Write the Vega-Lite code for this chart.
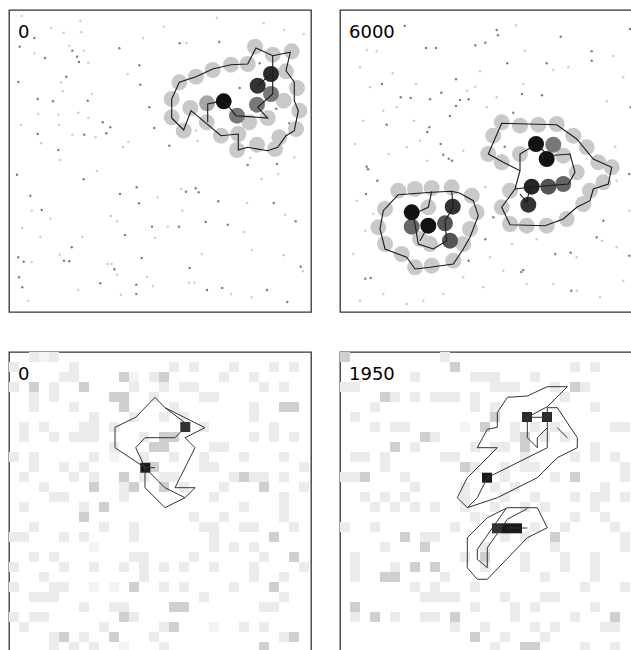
{
"$schema":"https://vega.github.io/schema/vega-lite/v6.json",
"padding":{"left":8,"top":9,"right":0,"bottom":0},
"background":"white",
"config":{"view":{"stroke":"#333333","strokeWidth":1.3}},
"spacing":{"row":38,"column":27},
"columns":2,
"datasets":{
"labels":[{"p":"TL","x":0.9,"y":2.8,"label":"0"},{"p":"TR","x":0.9,"y":2.8,"label":"6000"},{"p":"BL","x":0.9,"y":2.8,"label":"0"},{"p":"BR","x":0.9,"y":2.8,"label":"1950"}],
"tl_dots":[
{"x":2.53,"y":2.8,"v":5},{"x":1.07,"y":3.67,"v":5},{"x":3.6,"y":4.8,"v":5},{"x":6.33,"y":4.07,"v":5},{"x":6.8,"y":4.67,"v":5},{"x":7.0,"y":5.2,"v":5},{"x":11.03,"y":3.83,"v":5},{"x":13.03,"y":5.53,"v":5},{"x":5.73,"y":6.67,"v":5},{"x":0.93,"y":7.2,"v":5},{"x":13.13,"y":7.47,"v":5},{"x":2.87,"y":8.9,"v":5},{"x":4.4,"y":9.13,"v":5},{"x":7.87,"y":9.07,"v":5},{"x":14.03,"y":9.73,"v":5},{"x":9.37,"y":11.23,"v":5},{"x":10.13,"y":11.73,"v":5},{"x":14.53,"y":11.8,"v":5},{"x":9.73,"y":12.33,"v":5},{"x":2.87,"y":12.4,"v":5},{"x":7.53,"y":12.47,"v":5},{"x":4.93,"y":14.0,"v":5},{"x":16.03,"y":13.57,"v":5},{"x":0.8,"y":16.47,"v":5},{"x":2.13,"y":18.57,"v":5},{"x":3.27,"y":20.0,"v":5},{"x":7.47,"y":16.93,"v":5},{"x":12.77,"y":17.73,"v":5},{"x":11.1,"y":18.4,"v":5},{"x":13.0,"y":19.33,"v":5},{"x":17.7,"y":18.17,"v":5},{"x":18.67,"y":17.83,"v":5},{"x":18.97,"y":18.23,"v":5},{"x":20.93,"y":19.13,"v":5},{"x":26.47,"y":19.3,"v":5},{"x":23.87,"y":15.5,"v":5},{"x":26.8,"y":15.4,"v":5},{"x":28.03,"y":11.33,"v":5},{"x":19.67,"y":21.2,"v":5},{"x":21.87,"y":21.47,"v":5},{"x":17.0,"y":21.67,"v":5},{"x":14.3,"y":21.67,"v":5},{"x":11.6,"y":22.5,"v":5},{"x":6.27,"y":23.73,"v":5},{"x":13.27,"y":24.8,"v":5},{"x":5.5,"y":25.07,"v":5},{"x":6.03,"y":25.13,"v":5},{"x":1.47,"y":25.17,"v":5},{"x":0.93,"y":24.73,"v":5},{"x":10.53,"y":25.93,"v":5},{"x":18.07,"y":25.8,"v":5},{"x":29.17,"y":25.67,"v":5},{"x":1.0,"y":26.73,"v":5},{"x":1.33,"y":27.73,"v":5},{"x":9.13,"y":27.33,"v":5},{"x":12.73,"y":27.47,"v":5},{"x":12.73,"y":28.4,"v":5},{"x":19.8,"y":28.0,"v":5},{"x":21.33,"y":27.8,"v":5},{"x":25.8,"y":28.0,"v":5},{"x":27.83,"y":29.2,"v":5},{"x":28.67,"y":21.13,"v":5},{"x":25.07,"y":5.33,"v":5},{"x":23.07,"y":7.8,"v":5},{"x":26.73,"y":9.87,"v":5},{"x":21.03,"y":3.2,"v":5},{"x":17.07,"y":3.33,"v":5},
{"x":1.27,"y":0.6,"v":2},{"x":4.2,"y":1.8,"v":2},{"x":5.47,"y":2.27,"v":2},{"x":7.13,"y":1.07,"v":2},{"x":7.2,"y":2.23,"v":2},{"x":2.53,"y":4.33,"v":2},{"x":6.03,"y":3.6,"v":2},{"x":7.47,"y":4.07,"v":2},{"x":7.93,"y":5.27,"v":2},{"x":11.87,"y":6.4,"v":2},{"x":5.2,"y":7.23,"v":2},{"x":5.37,"y":8.13,"v":2},{"x":8.27,"y":8.4,"v":2},{"x":2.93,"y":10.4,"v":2},{"x":6.93,"y":10.27,"v":2},{"x":4.93,"y":10.47,"v":2},{"x":7.93,"y":10.8,"v":2},{"x":1.2,"y":11.47,"v":2},{"x":5.0,"y":11.47,"v":2},{"x":6.33,"y":12.47,"v":2},{"x":8.67,"y":12.73,"v":2},{"x":11.4,"y":13.73,"v":2},{"x":11.93,"y":13.2,"v":2},{"x":3.2,"y":13.33,"v":2},{"x":5.07,"y":15.0,"v":2},{"x":8.8,"y":16.13,"v":2},{"x":14.87,"y":18.73,"v":2},{"x":17.2,"y":17.9,"v":2},{"x":17.33,"y":20.07,"v":2},{"x":23.8,"y":19.33,"v":2},{"x":10.2,"y":20.6,"v":2},{"x":10.8,"y":21.13,"v":2},{"x":4.13,"y":20.87,"v":2},{"x":1.33,"y":21.8,"v":2},{"x":3.13,"y":22.67,"v":2},{"x":7.33,"y":22.67,"v":2},{"x":14.6,"y":22.8,"v":2},{"x":15.87,"y":21.67,"v":2},{"x":19.27,"y":24.4,"v":2},{"x":24.27,"y":24.0,"v":2},{"x":27.47,"y":24.53,"v":2},{"x":23.53,"y":22.2,"v":2},{"x":27.6,"y":20.47,"v":2},{"x":2.27,"y":20.07,"v":2},{"x":2.27,"y":25.2,"v":2},{"x":5.07,"y":24.47,"v":2},{"x":9.87,"y":25.4,"v":2},{"x":10.27,"y":25.4,"v":2},{"x":10.8,"y":26.47,"v":2},{"x":13.8,"y":26.67,"v":2},{"x":14.4,"y":27.6,"v":2},{"x":6.93,"y":28.0,"v":2},{"x":1.93,"y":29.07,"v":2},{"x":11.2,"y":28.47,"v":2},{"x":18.0,"y":27.27,"v":2},{"x":18.53,"y":27.27,"v":2},{"x":22.2,"y":28.4,"v":2},{"x":24.27,"y":28.73,"v":2},{"x":29.4,"y":26.13,"v":2},{"x":29.47,"y":2.4,"v":2},{"x":27.53,"y":2.0,"v":2},{"x":25.47,"y":1.33,"v":2},{"x":20.8,"y":0.8,"v":2},{"x":15.47,"y":1.67,"v":2},{"x":13.4,"y":2.8,"v":2},{"x":17.73,"y":3.33,"v":2},{"x":18.7,"y":12.07,"v":2},{"x":18.87,"y":13.07,"v":2},{"x":24.13,"y":14.8,"v":2},{"x":26.93,"y":16.4,"v":2},{"x":25.27,"y":16.93,"v":2},{"x":28.53,"y":14.73,"v":2}],
"tl_circles":[
{"x":17.03,"y":7.23,"v":2.1},{"x":18.7,"y":6.67,"v":2.1},{"x":20.37,"y":6.0,"v":2.1},{"x":22.2,"y":5.47,"v":2.1},{"x":23.87,"y":5.4,"v":2.1},{"x":24.6,"y":3.67,"v":2.1},{"x":26.37,"y":4.47,"v":2.1},{"x":28.27,"y":4.13,"v":2.1},{"x":27.7,"y":6.13,"v":2.1},{"x":28.8,"y":7.8,"v":2.1},{"x":29.03,"y":10.07,"v":2.1},{"x":28.7,"y":11.9,"v":2.1},{"x":27.03,"y":12.73,"v":2.1},{"x":26.6,"y":13.9,"v":2.1},{"x":24.8,"y":13.47,"v":2.1},{"x":22.8,"y":14.0,"v":2.1},{"x":22.93,"y":12.4,"v":2.1},{"x":21.2,"y":12.57,"v":2.1},{"x":19.77,"y":11.23,"v":2.1},{"x":17.47,"y":12.07,"v":2.1},{"x":16.27,"y":10.73,"v":2.1},{"x":16.27,"y":8.9,"v":2.1},{"x":18.13,"y":9.8,"v":2.1},{"x":24.03,"y":11.23,"v":2.1},{"x":25.87,"y":10.8,"v":2.1},{"x":27.47,"y":9.07,"v":2.1},
{"x":19.8,"y":9.33,"v":3.5},{"x":22.8,"y":10.57,"v":5.3},{"x":24.8,"y":9.47,"v":5.3},{"x":26.2,"y":8.4,"v":5.3},{"x":24.87,"y":7.57,"v":8},{"x":26.2,"y":6.4,"v":8.3},{"x":21.47,"y":9.13,"v":9.3}],
"tl_lines":[
{"g":1,"o":1,"x":23.87,"y":5.4},{"g":1,"o":2,"x":24.7,"y":3.8},{"g":1,"o":3,"x":26.37,"y":4.57},{"g":1,"o":4,"x":28.13,"y":4.23},{"g":1,"o":5,"x":27.7,"y":6.07},{"g":1,"o":6,"x":28.53,"y":7.23},{"g":1,"o":7,"x":28.53,"y":9.07},{"g":1,"o":8,"x":28.93,"y":10.07},{"g":1,"o":9,"x":28.53,"y":12.07},{"g":1,"o":10,"x":27.7,"y":12.57},{"g":1,"o":11,"x":26.87,"y":13.73},{"g":1,"o":12,"x":25.87,"y":14.07},{"g":1,"o":13,"x":23.87,"y":13.73},{"g":1,"o":14,"x":22.93,"y":14.0},{"g":1,"o":15,"x":22.93,"y":12.4},{"g":1,"o":16,"x":21.2,"y":12.57},{"g":1,"o":17,"x":18.2,"y":10.07},{"g":1,"o":18,"x":17.47,"y":12.0},{"g":1,"o":19,"x":16.27,"y":10.8},{"g":1,"o":20,"x":16.27,"y":8.9},{"g":1,"o":21,"x":17.03,"y":7.23},{"g":1,"o":22,"x":18.7,"y":6.67},{"g":1,"o":23,"x":20.37,"y":5.9},{"g":1,"o":24,"x":22.2,"y":5.47},{"g":1,"o":25,"x":23.87,"y":5.4},
{"g":2,"o":1,"x":26.37,"y":4.57},{"g":2,"o":2,"x":26.37,"y":8.4},{"g":2,"o":3,"x":24.87,"y":9.73},{"g":2,"o":4,"x":25.87,"y":10.8},{"g":2,"o":5,"x":22.7,"y":10.57},{"g":2,"o":6,"x":21.47,"y":9.07},{"g":2,"o":7,"x":19.87,"y":9.4},{"g":2,"o":8,"x":19.87,"y":11.23},
{"g":3,"o":1,"x":26.2,"y":6.4},{"g":3,"o":2,"x":24.87,"y":7.57}],
"tr_dots":[
{"x":6.47,"y":1.6,"v":5},{"x":15.67,"y":2.0,"v":5},{"x":15.8,"y":2.53,"v":5},{"x":22.07,"y":2.67,"v":5},{"x":29.0,"y":1.9,"v":5},{"x":8.6,"y":3.8,"v":5},{"x":9.6,"y":3.8,"v":5},{"x":13.53,"y":3.53,"v":5},{"x":14.53,"y":3.27,"v":5},{"x":25.17,"y":4.13,"v":5},{"x":25.17,"y":5.07,"v":5},{"x":16.73,"y":5.33,"v":5},{"x":20.67,"y":5.33,"v":5},{"x":11.6,"y":6.93,"v":5},{"x":4.2,"y":7.4,"v":5},{"x":6.07,"y":8.73,"v":5},{"x":7.07,"y":8.8,"v":5},{"x":9.0,"y":8.93,"v":5},{"x":10.13,"y":8.27,"v":5},{"x":11.99,"y":9.0,"v":5},{"x":12.87,"y":8.93,"v":5},{"x":11.6,"y":9.6,"v":5},{"x":10.99,"y":10.6,"v":5},{"x":17.33,"y":10.27,"v":5},{"x":18.2,"y":8.4,"v":5},{"x":20.2,"y":8.53,"v":5},{"x":29.07,"y":9.73,"v":5},{"x":29.27,"y":10.2,"v":5},{"x":4.67,"y":11.47,"v":5},{"x":8.93,"y":11.73,"v":5},{"x":8.73,"y":12.2,"v":5},{"x":10.07,"y":13.4,"v":5},{"x":10.87,"y":14.87,"v":5},{"x":11.2,"y":15.07,"v":5},{"x":10.33,"y":14.47,"v":5},{"x":2.67,"y":15.67,"v":5},{"x":2.8,"y":15.93,"v":5},{"x":3.73,"y":17.07,"v":5},{"x":2.6,"y":18.4,"v":5},{"x":14.53,"y":22.93,"v":5},{"x":15.33,"y":20.73,"v":5},{"x":16.47,"y":13.67,"v":5},{"x":28.93,"y":16.4,"v":5},{"x":28.93,"y":24.57,"v":5},{"x":18.33,"y":26.0,"v":5},{"x":18.13,"y":26.2,"v":5},{"x":23.13,"y":28.07,"v":5},{"x":2.53,"y":26.87,"v":5},{"x":3.07,"y":26.8,"v":5},{"x":21.53,"y":24.4,"v":5},{"x":23.07,"y":24.27,"v":5},{"x":26.33,"y":21.07,"v":5},{"x":25.67,"y":22.73,"v":5},{"x":12.87,"y":25.07,"v":5},
{"x":2.67,"y":4.0,"v":2},{"x":3.67,"y":4.13,"v":2},{"x":2.0,"y":5.73,"v":2},{"x":5.27,"y":6.33,"v":2},{"x":3.0,"y":7.73,"v":2},{"x":7.6,"y":7.4,"v":2},{"x":12.73,"y":8.07,"v":2},{"x":13.53,"y":7.67,"v":2},{"x":14.0,"y":6.13,"v":2},{"x":17.6,"y":1.53,"v":2},{"x":18.47,"y":4.07,"v":2},{"x":21.33,"y":6.0,"v":2},{"x":22.83,"y":5.73,"v":2},{"x":27.33,"y":4.6,"v":2},{"x":28.33,"y":6.73,"v":2},{"x":26.67,"y":9.13,"v":2},{"x":27.53,"y":13.67,"v":2},{"x":27.67,"y":17.07,"v":2},{"x":28.93,"y":20.07,"v":2},{"x":27.67,"y":23.73,"v":2},{"x":26.2,"y":23.07,"v":2},{"x":28.33,"y":27.07,"v":2},{"x":26.0,"y":28.73,"v":2},{"x":23.67,"y":28.07,"v":2},{"x":21.33,"y":27.4,"v":2},{"x":18.67,"y":27.4,"v":2},{"x":16.33,"y":26.07,"v":2},{"x":14.33,"y":27.73,"v":2},{"x":12.33,"y":26.73,"v":2},{"x":10.33,"y":28.4,"v":2},{"x":8.33,"y":29.07,"v":2},{"x":6.67,"y":29.4,"v":2},{"x":4.33,"y":28.4,"v":2},{"x":2.0,"y":29.07,"v":2},{"x":1.33,"y":24.4,"v":2},{"x":2.53,"y":22.07,"v":2},{"x":3.33,"y":20.4,"v":2},{"x":1.67,"y":19.07,"v":2},{"x":1.53,"y":13.4,"v":2},{"x":2.33,"y":11.07,"v":2},{"x":4.33,"y":10.07,"v":2},{"x":5.67,"y":9.73,"v":2},{"x":7.4,"y":11.07,"v":2},{"x":8.0,"y":13.07,"v":2},{"x":6.67,"y":13.73,"v":2},{"x":4.87,"y":14.4,"v":2},{"x":8.73,"y":15.07,"v":2},{"x":12.33,"y":14.07,"v":2},{"x":14.53,"y":17.73,"v":2},{"x":14.0,"y":19.73,"v":2},{"x":15.0,"y":24.73,"v":2},{"x":17.2,"y":23.4,"v":2},{"x":19.67,"y":22.93,"v":2},{"x":23.67,"y":24.73,"v":2},{"x":18.33,"y":7.4,"v":2},{"x":15.67,"y":8.73,"v":2},{"x":14.67,"y":9.73,"v":2}],
"tr_circles":[
{"x":5.83,"y":18.07,"v":2.1},{"x":7.5,"y":17.9,"v":2.1},{"x":9.17,"y":17.8,"v":2.1},{"x":11.17,"y":17.73,"v":2.1},{"x":13.17,"y":18.57,"v":2.1},{"x":13.67,"y":20.23,"v":2.1},{"x":13.0,"y":21.9,"v":2.1},{"x":12.33,"y":23.4,"v":2.1},{"x":11.33,"y":25.07,"v":2.1},{"x":9.17,"y":25.57,"v":2.1},{"x":7.5,"y":25.73,"v":2.1},{"x":6.17,"y":24.4,"v":2.1},{"x":4.5,"y":23.4,"v":2.1},{"x":3.83,"y":21.73,"v":2.1},{"x":4.5,"y":19.9,"v":2.1},{"x":8.83,"y":19.73,"v":2.1},{"x":9.0,"y":23.4,"v":2.1},{"x":8.0,"y":22.9,"v":2.1},
{"x":16.17,"y":11.23,"v":2.1},{"x":18.0,"y":11.57,"v":2.1},{"x":19.83,"y":11.47,"v":2.1},{"x":21.67,"y":11.4,"v":2.1},{"x":23.33,"y":12.57,"v":2.1},{"x":24.67,"y":13.73,"v":2.1},{"x":25.83,"y":15.23,"v":2.1},{"x":27.17,"y":15.73,"v":2.1},{"x":26.33,"y":17.23,"v":2.1},{"x":25.0,"y":18.07,"v":2.1},{"x":24.33,"y":19.4,"v":2.1},{"x":22.67,"y":20.9,"v":2.1},{"x":20.67,"y":21.57,"v":2.1},{"x":18.67,"y":21.57,"v":2.1},{"x":17.0,"y":21.4,"v":2.1},{"x":16.17,"y":19.73,"v":2.1},{"x":17.0,"y":18.07,"v":2.1},{"x":14.83,"y":14.4,"v":2.1},{"x":15.33,"y":12.57,"v":2.1},{"x":18.0,"y":14.4,"v":2.1},{"x":16.17,"y":15.23,"v":2.1},{"x":22.33,"y":14.57,"v":2.1},{"x":23.67,"y":16.23,"v":2.1},
{"x":21.33,"y":13.47,"v":5.3},{"x":7.17,"y":21.67,"v":6.0},{"x":22.33,"y":17.4,"v":6.0},{"x":10.5,"y":21.33,"v":6.7},{"x":11.0,"y":23.07,"v":6.7},{"x":20.83,"y":17.67,"v":6.7},{"x":11.27,"y":19.67,"v":8},{"x":18.83,"y":19.47,"v":8},{"x":19.17,"y":17.67,"v":8.5},{"x":7.17,"y":20.23,"v":9.3},{"x":8.83,"y":21.57,"v":9.3},{"x":19.6,"y":13.4,"v":9.3},{"x":20.67,"y":14.9,"v":9.3}],
"tr_lines":[
{"g":1,"o":1,"x":5.83,"y":18.47},{"g":1,"o":2,"x":9.17,"y":18.23},{"g":1,"o":3,"x":11.17,"y":18.13},{"g":1,"o":4,"x":12.0,"y":18.33},{"g":1,"o":5,"x":13.33,"y":19.07},{"g":1,"o":6,"x":13.83,"y":20.57},{"g":1,"o":7,"x":13.0,"y":22.73},{"g":1,"o":8,"x":12.33,"y":23.9},{"g":1,"o":9,"x":11.33,"y":25.4},{"g":1,"o":10,"x":9.0,"y":25.73},{"g":1,"o":11,"x":7.5,"y":25.9},{"g":1,"o":12,"x":6.67,"y":24.73},{"g":1,"o":13,"x":4.5,"y":23.9},{"g":1,"o":14,"x":4.0,"y":21.9},{"g":1,"o":15,"x":4.33,"y":20.07},{"g":1,"o":16,"x":5.83,"y":18.47},
{"g":2,"o":1,"x":9.17,"y":18.13},{"g":2,"o":2,"x":8.83,"y":19.73},{"g":2,"o":3,"x":7.33,"y":20.4},{"g":2,"o":4,"x":7.83,"y":23.4},{"g":2,"o":5,"x":9.33,"y":23.9},{"g":2,"o":6,"x":10.67,"y":23.07},{"g":2,"o":7,"x":10.5,"y":21.07},{"g":2,"o":8,"x":11.33,"y":19.73},{"g":2,"o":9,"x":11.17,"y":18.13},
{"g":3,"o":1,"x":8.83,"y":21.57},{"g":3,"o":2,"x":8.0,"y":23.07},
{"g":4,"o":1,"x":16.17,"y":11.33},{"g":4,"o":2,"x":21.67,"y":11.47},{"g":4,"o":3,"x":23.67,"y":12.9},{"g":4,"o":4,"x":25.33,"y":14.9},{"g":4,"o":5,"x":27.17,"y":15.73},{"g":4,"o":6,"x":26.83,"y":17.4},{"g":4,"o":7,"x":25.33,"y":17.9},{"g":4,"o":8,"x":25.0,"y":19.07},{"g":4,"o":9,"x":23.67,"y":19.73},{"g":4,"o":10,"x":22.33,"y":20.9},{"g":4,"o":11,"x":20.5,"y":21.57},{"g":4,"o":12,"x":17.0,"y":21.47},{"g":4,"o":13,"x":16.17,"y":19.73},{"g":4,"o":14,"x":17.5,"y":17.9},{"g":4,"o":15,"x":18.0,"y":16.07},{"g":4,"o":16,"x":16.33,"y":15.23},{"g":4,"o":17,"x":14.83,"y":14.4},{"g":4,"o":18,"x":16.17,"y":11.33},
{"g":5,"o":1,"x":18.0,"y":16.07},{"g":5,"o":2,"x":18.0,"y":14.4},{"g":5,"o":3,"x":19.67,"y":13.4},{"g":5,"o":4,"x":20.83,"y":14.57},{"g":5,"o":5,"x":23.0,"y":14.4},{"g":5,"o":6,"x":23.5,"y":16.23},{"g":5,"o":7,"x":22.83,"y":17.4},{"g":5,"o":8,"x":19.0,"y":17.73},{"g":5,"o":9,"x":17.5,"y":17.9},
{"g":6,"o":1,"x":19.0,"y":17.73},{"g":6,"o":2,"x":18.67,"y":19.23},{"g":6,"o":3,"x":18.0,"y":18.4}],
"bl_cells":[
{"x":2.5,"y":0.5,"v":0.8},{"x":3.5,"y":0.5,"v":0.45},{"x":4.5,"y":0.5,"v":0.8},
{"x":0.5,"y":1.5,"v":0.8},{"x":6.5,"y":1.5,"v":0.8},{"x":16.5,"y":1.5,"v":0.8},{"x":18.5,"y":1.5,"v":0.8},{"x":22.5,"y":1.5,"v":0.8},{"x":26.5,"y":1.5,"v":0.8},{"x":28.5,"y":1.5,"v":0.8},
{"x":5.5,"y":2.5,"v":0.8},{"x":6.5,"y":2.5,"v":0.8},{"x":11.5,"y":2.5,"v":1.9},{"x":12.5,"y":2.5,"v":0.45},{"x":14.5,"y":2.5,"v":0.8},{"x":15.5,"y":2.5,"v":1.9},{"x":21.5,"y":2.5,"v":0.8},{"x":24.5,"y":2.5,"v":0.8},
{"x":0.5,"y":3.5,"v":0.8},{"x":2.5,"y":3.5,"v":1.9},{"x":4.5,"y":3.5,"v":0.8},{"x":7.5,"y":3.5,"v":1.9},{"x":12.5,"y":3.5,"v":0.8},{"x":15.5,"y":3.5,"v":0.8},{"x":17.5,"y":3.5,"v":0.8},{"x":18.5,"y":3.5,"v":0.8},{"x":25.5,"y":3.5,"v":0.8},{"x":27.5,"y":3.5,"v":0.8},
{"x":2.5,"y":4.5,"v":0.8},{"x":4.5,"y":4.5,"v":0.8},{"x":10.5,"y":4.5,"v":1.9},{"x":11.5,"y":4.5,"v":1.9},{"x":14.5,"y":4.5,"v":0.8},{"x":19.5,"y":4.5,"v":0.8},{"x":20.5,"y":4.5,"v":0.8},
{"x":2.5,"y":5.5,"v":0.8},{"x":6.5,"y":5.5,"v":0.8},{"x":11.5,"y":5.5,"v":1.9},{"x":16.5,"y":5.5,"v":0.8},{"x":24.5,"y":5.5,"v":0.8},{"x":27.5,"y":5.5,"v":1.9},{"x":28.5,"y":5.5,"v":1.9},
{"x":8.5,"y":6.5,"v":0.8},{"x":12.5,"y":6.5,"v":0.8},{"x":15.5,"y":6.5,"v":0.8},{"x":17.5,"y":6.5,"v":0.8},{"x":24.5,"y":6.5,"v":0.8},
{"x":1.5,"y":7.5,"v":0.8},{"x":3.5,"y":7.5,"v":0.8},{"x":7.5,"y":7.5,"v":0.8},{"x":8.5,"y":7.5,"v":0.8},{"x":10.5,"y":7.5,"v":0.8},{"x":19.5,"y":7.5,"v":0.8},{"x":26.5,"y":7.5,"v":0.8},
{"x":1.5,"y":8.5,"v":0.8},{"x":4.5,"y":8.5,"v":0.8},{"x":6.5,"y":8.5,"v":0.8},{"x":7.5,"y":8.5,"v":0.8},{"x":8.5,"y":8.5,"v":0.8},{"x":13.5,"y":8.5,"v":0.8},{"x":15.5,"y":8.5,"v":1.9},{"x":16.5,"y":8.5,"v":1.9},{"x":24.5,"y":8.5,"v":0.8},{"x":26.5,"y":8.5,"v":0.8},{"x":28.5,"y":8.5,"v":0.8},
{"x":10.5,"y":9.5,"v":0.8},{"x":14.5,"y":9.5,"v":1.9},{"x":15.5,"y":9.5,"v":1.9},{"x":20.5,"y":9.5,"v":0.8},{"x":21.5,"y":9.5,"v":0.8},
{"x":0.5,"y":10.5,"v":0.8},{"x":2.5,"y":10.5,"v":0.8},{"x":8.5,"y":10.5,"v":0.8},{"x":10.5,"y":10.5,"v":0.45},{"x":13.5,"y":10.5,"v":0.8},{"x":16.5,"y":10.5,"v":0.8},{"x":19.5,"y":10.5,"v":0.8},{"x":23.5,"y":10.5,"v":0.8},{"x":27.5,"y":10.5,"v":0.8},
{"x":2.5,"y":11.5,"v":0.8},{"x":5.5,"y":11.5,"v":0.8},{"x":7.5,"y":11.5,"v":0.8},{"x":14.5,"y":11.5,"v":1.9},{"x":19.5,"y":11.5,"v":0.8},{"x":20.5,"y":11.5,"v":0.8},{"x":29.5,"y":11.5,"v":0.8},
{"x":1.5,"y":12.5,"v":0.8},{"x":6.5,"y":12.5,"v":0.8},{"x":8.5,"y":12.5,"v":0.8},{"x":11.5,"y":12.5,"v":1.9},{"x":13.5,"y":12.5,"v":0.8},{"x":15.5,"y":12.5,"v":0.8},{"x":16.5,"y":12.5,"v":0.8},{"x":22.5,"y":12.5,"v":0.8},{"x":23.5,"y":12.5,"v":1.9},{"x":24.5,"y":12.5,"v":0.8},{"x":25.5,"y":12.5,"v":0.8},{"x":27.5,"y":12.5,"v":0.8},
{"x":3.5,"y":13.5,"v":0.8},{"x":8.5,"y":13.5,"v":1.9},{"x":11.5,"y":13.5,"v":0.8},{"x":12.5,"y":13.5,"v":1.9},{"x":15.5,"y":13.5,"v":1.9},{"x":17.5,"y":13.5,"v":0.8},{"x":21.5,"y":13.5,"v":0.8},{"x":25.5,"y":13.5,"v":1.9},{"x":29.5,"y":13.5,"v":0.8},
{"x":4.5,"y":14.5,"v":0.8},{"x":5.5,"y":14.5,"v":0.8},{"x":11.5,"y":14.5,"v":0.8},{"x":20.5,"y":14.5,"v":0.8},{"x":27.5,"y":14.5,"v":0.8},
{"x":1.5,"y":15.5,"v":0.8},{"x":7.5,"y":15.5,"v":0.8},{"x":9.5,"y":15.5,"v":1.9},{"x":23.5,"y":15.5,"v":0.8},{"x":27.5,"y":15.5,"v":0.8},
{"x":7.5,"y":16.5,"v":1.9},{"x":18.5,"y":16.5,"v":0.8},{"x":21.5,"y":16.5,"v":0.8},{"x":27.5,"y":16.5,"v":0.8},
{"x":2.5,"y":17.5,"v":0.8},{"x":9.5,"y":17.5,"v":0.8},{"x":12.5,"y":17.5,"v":0.8},{"x":19.5,"y":17.5,"v":0.8},{"x":20.5,"y":17.5,"v":0.8},{"x":23.5,"y":17.5,"v":0.8},{"x":24.5,"y":17.5,"v":0.8},{"x":28.5,"y":17.5,"v":0.8},
{"x":0.5,"y":18.5,"v":0.8},{"x":1.5,"y":18.5,"v":0.8},{"x":5.5,"y":18.5,"v":0.8},{"x":7.5,"y":18.5,"v":0.8},{"x":12.5,"y":18.5,"v":0.8},{"x":20.5,"y":18.5,"v":0.8},{"x":26.5,"y":18.5,"v":1.9},
{"x":8.5,"y":19.5,"v":0.45},{"x":20.5,"y":19.5,"v":0.8},{"x":22.5,"y":19.5,"v":0.8},{"x":24.5,"y":19.5,"v":0.8},
{"x":2.5,"y":20.5,"v":0.8},{"x":4.5,"y":20.5,"v":0.8},{"x":12.5,"y":20.5,"v":0.8},{"x":13.5,"y":20.5,"v":0.8},{"x":18.5,"y":20.5,"v":0.8},{"x":25.5,"y":20.5,"v":0.8},{"x":28.5,"y":20.5,"v":1.9},
{"x":0.5,"y":21.5,"v":0.8},{"x":5.5,"y":21.5,"v":0.8},{"x":8.5,"y":21.5,"v":0.8},{"x":11.5,"y":21.5,"v":0.8},{"x":13.5,"y":21.5,"v":0.8},{"x":15.5,"y":21.5,"v":0.8},{"x":17.5,"y":21.5,"v":0.8},{"x":20.5,"y":21.5,"v":0.8},{"x":24.5,"y":21.5,"v":0.8},{"x":29.5,"y":21.5,"v":0.8},
{"x":3.5,"y":22.5,"v":0.8},{"x":13.5,"y":22.5,"v":0.8},{"x":24.5,"y":22.5,"v":0.8},{"x":27.5,"y":22.5,"v":0.8},
{"x":0.5,"y":23.5,"v":0.8},{"x":4.5,"y":23.5,"v":0.8},{"x":5.5,"y":23.5,"v":0.8},{"x":8.5,"y":23.5,"v":0.45},{"x":10.5,"y":23.5,"v":0.45},{"x":12.5,"y":23.5,"v":1.9},{"x":15.5,"y":23.5,"v":0.8},{"x":17.5,"y":23.5,"v":0.8},{"x":22.5,"y":23.5,"v":0.8},{"x":26.5,"y":23.5,"v":1.9},
{"x":2.5,"y":24.5,"v":0.8},{"x":3.5,"y":24.5,"v":0.8},{"x":4.5,"y":24.5,"v":0.8},{"x":19.5,"y":24.5,"v":0.8},{"x":27.5,"y":24.5,"v":0.8},
{"x":7.5,"y":25.5,"v":0.8},{"x":10.5,"y":25.5,"v":0.8},{"x":11.5,"y":25.5,"v":0.8},{"x":16.5,"y":25.5,"v":1.9},{"x":17.5,"y":25.5,"v":1.9},{"x":25.5,"y":25.5,"v":0.8},{"x":26.5,"y":25.5,"v":0.8},
{"x":0.5,"y":26.5,"v":0.8},{"x":2.5,"y":26.5,"v":0.8},{"x":3.5,"y":26.5,"v":0.8},{"x":11.5,"y":26.5,"v":1.9},{"x":12.5,"y":26.5,"v":0.8},
{"x":1.5,"y":27.5,"v":0.8},{"x":9.5,"y":27.5,"v":0.8},{"x":15.5,"y":27.5,"v":0.8},{"x":16.5,"y":27.5,"v":1.9},{"x":20.5,"y":27.5,"v":0.45},{"x":23.5,"y":27.5,"v":0.8},{"x":25.5,"y":27.5,"v":0.8},
{"x":4.5,"y":28.5,"v":0.8},{"x":5.5,"y":28.5,"v":1.9},{"x":7.5,"y":28.5,"v":0.8},{"x":10.5,"y":28.5,"v":1.9},{"x":14.5,"y":28.5,"v":0.8},{"x":27.5,"y":28.5,"v":0.8},{"x":28.5,"y":28.5,"v":1.9},
{"x":4.5,"y":29.5,"v":0.8},{"x":6.5,"y":29.5,"v":0.8},{"x":8.5,"y":29.5,"v":0.8},{"x":11.5,"y":29.5,"v":0.45},{"x":15.5,"y":29.5,"v":0.8},{"x":25.5,"y":29.5,"v":1.9},
{"x":17.63,"y":7.5,"v":8},{"x":13.63,"y":11.57,"v":9}],
"bl_lines":[
{"g":1,"o":1,"x":14.6,"y":4.53},{"g":1,"o":2,"x":12.67,"y":6.53},{"g":1,"o":3,"x":10.6,"y":7.53},{"g":1,"o":4,"x":10.6,"y":9.57},{"g":1,"o":5,"x":13.6,"y":11.57},{"g":1,"o":6,"x":13.6,"y":13.57},{"g":1,"o":7,"x":15.6,"y":15.57},{"g":1,"o":8,"x":17.6,"y":14.57},{"g":1,"o":9,"x":18.6,"y":13.57},{"g":1,"o":10,"x":16.6,"y":13.57},{"g":1,"o":11,"x":18.6,"y":9.57},{"g":1,"o":12,"x":17.6,"y":8.57},{"g":1,"o":13,"x":19.6,"y":7.57},{"g":1,"o":14,"x":15.6,"y":5.57},{"g":1,"o":15,"x":14.6,"y":4.53},
{"g":2,"o":1,"x":15.6,"y":5.57},{"g":2,"o":2,"x":17.6,"y":7.07},{"g":2,"o":3,"x":17.6,"y":7.57},{"g":2,"o":4,"x":16.6,"y":8.57},{"g":2,"o":5,"x":13.6,"y":8.57},{"g":2,"o":6,"x":12.67,"y":9.57},{"g":2,"o":7,"x":13.6,"y":11.57},{"g":2,"o":8,"x":14.6,"y":11.57},
{"g":3,"o":1,"x":13.6,"y":11.57},{"g":3,"o":2,"x":15.6,"y":13.57},{"g":3,"o":3,"x":17.6,"y":14.57}],
"br_cells":[
{"x":0.5,"y":0.5,"v":1.9},{"x":10.5,"y":0.5,"v":0.8},
{"x":11.5,"y":1.5,"v":1.9},{"x":23.5,"y":1.5,"v":0.8},{"x":25.5,"y":1.5,"v":0.8},
{"x":7.5,"y":2.5,"v":0.8},{"x":13.5,"y":2.5,"v":0.8},{"x":14.5,"y":2.5,"v":0.8},{"x":15.5,"y":2.5,"v":0.8},{"x":19.5,"y":2.5,"v":0.8},
{"x":0.5,"y":3.5,"v":0.8},{"x":1.5,"y":3.5,"v":0.8},{"x":15.5,"y":3.5,"v":0.8},{"x":16.5,"y":3.5,"v":0.8},{"x":17.5,"y":3.5,"v":0.8},{"x":21.5,"y":3.5,"v":0.8},{"x":23.5,"y":3.5,"v":1.9},{"x":24.5,"y":3.5,"v":0.8},
{"x":4.5,"y":4.5,"v":1.9},{"x":5.5,"y":4.5,"v":0.8},{"x":7.5,"y":4.5,"v":0.8},{"x":9.5,"y":4.5,"v":0.8},{"x":10.5,"y":4.5,"v":0.8},{"x":11.5,"y":4.5,"v":0.8},{"x":13.5,"y":4.5,"v":0.8},{"x":22.5,"y":4.5,"v":0.8},
{"x":3.5,"y":5.5,"v":0.8},{"x":13.5,"y":5.5,"v":0.8},{"x":15.5,"y":5.5,"v":0.8},{"x":25.5,"y":5.5,"v":0.8},
{"x":1.5,"y":6.5,"v":0.8},{"x":15.5,"y":6.5,"v":1.9},
{"x":3.5,"y":7.5,"v":0.8},{"x":5.5,"y":7.5,"v":0.8},{"x":6.5,"y":7.5,"v":0.8},{"x":12.5,"y":7.5,"v":0.45},{"x":14.5,"y":7.5,"v":1.9},{"x":17.5,"y":7.5,"v":0.8},{"x":19.5,"y":7.5,"v":0.8},{"x":21.5,"y":7.5,"v":0.8},{"x":27.5,"y":7.5,"v":0.8},{"x":28.5,"y":7.5,"v":0.8},
{"x":8.5,"y":8.5,"v":1.9},{"x":9.5,"y":8.5,"v":0.8},{"x":17.5,"y":8.5,"v":0.8},{"x":18.5,"y":8.5,"v":1.9},{"x":20.5,"y":8.5,"v":0.8},{"x":22.5,"y":8.5,"v":0.8},
{"x":5.5,"y":9.5,"v":1.9},{"x":7.5,"y":9.5,"v":0.8},{"x":13.5,"y":9.5,"v":0.8},{"x":15.5,"y":9.5,"v":0.8},{"x":16.5,"y":9.5,"v":0.8},{"x":18.5,"y":9.5,"v":1.9},{"x":25.5,"y":9.5,"v":0.8},
{"x":1.5,"y":10.5,"v":0.8},{"x":2.5,"y":10.5,"v":0.8},{"x":4.5,"y":10.5,"v":0.8},{"x":10.5,"y":10.5,"v":0.8},{"x":11.5,"y":10.5,"v":0.8},{"x":18.5,"y":10.5,"v":0.8},{"x":23.5,"y":10.5,"v":0.8},{"x":25.5,"y":10.5,"v":0.8},{"x":27.5,"y":10.5,"v":0.8},
{"x":4.5,"y":11.5,"v":0.8},{"x":12.5,"y":11.5,"v":1.9},{"x":13.5,"y":11.5,"v":0.8},{"x":16.5,"y":11.5,"v":0.8},{"x":18.5,"y":11.5,"v":0.8},{"x":19.5,"y":11.5,"v":0.8},{"x":28.5,"y":11.5,"v":0.8},
{"x":0.5,"y":12.5,"v":0.8},{"x":1.5,"y":12.5,"v":0.8},{"x":2.5,"y":12.5,"v":1.9},{"x":6.5,"y":12.5,"v":0.8},{"x":16.5,"y":12.5,"v":0.8},{"x":21.5,"y":12.5,"v":0.8},{"x":23.5,"y":12.5,"v":1.9},{"x":28.5,"y":12.5,"v":0.8},
{"x":7.5,"y":13.5,"v":0.8},{"x":12.5,"y":13.5,"v":0.8},{"x":15.5,"y":13.5,"v":0.8},{"x":17.5,"y":13.5,"v":0.8},{"x":26.5,"y":13.5,"v":0.8},
{"x":2.5,"y":14.5,"v":0.8},{"x":4.5,"y":14.5,"v":0.8},{"x":6.5,"y":14.5,"v":0.8},{"x":12.5,"y":14.5,"v":0.8},{"x":16.5,"y":14.5,"v":0.8},{"x":19.5,"y":14.5,"v":0.8},{"x":23.5,"y":14.5,"v":0.8},{"x":25.5,"y":14.5,"v":0.8},{"x":26.5,"y":14.5,"v":0.8},{"x":28.5,"y":14.5,"v":0.8},
{"x":3.5,"y":15.5,"v":0.8},{"x":5.5,"y":15.5,"v":0.8},{"x":7.5,"y":15.5,"v":0.8},{"x":9.5,"y":15.5,"v":0.8},{"x":12.5,"y":15.5,"v":0.8},{"x":15.5,"y":15.5,"v":0.8},{"x":18.5,"y":15.5,"v":0.8},{"x":20.5,"y":15.5,"v":0.8},{"x":25.5,"y":15.5,"v":0.8},
{"x":13.5,"y":16.5,"v":0.8},{"x":23.5,"y":16.5,"v":0.8},{"x":26.5,"y":16.5,"v":0.8},
{"x":0.5,"y":17.5,"v":0.8},{"x":3.5,"y":17.5,"v":0.8},{"x":11.5,"y":17.5,"v":0.8},{"x":19.5,"y":17.5,"v":0.8},{"x":22.5,"y":17.5,"v":0.8},{"x":27.5,"y":17.5,"v":0.8},
{"x":6.5,"y":18.5,"v":1.9},{"x":8.5,"y":18.5,"v":0.8},{"x":9.5,"y":18.5,"v":0.8},{"x":16.5,"y":18.5,"v":0.8},{"x":18.5,"y":18.5,"v":0.8},{"x":21.5,"y":18.5,"v":1.9},{"x":28.5,"y":18.5,"v":0.8},
{"x":4.5,"y":19.5,"v":0.8},{"x":8.5,"y":19.5,"v":1.9},{"x":14.5,"y":19.5,"v":0.8},{"x":21.5,"y":19.5,"v":0.8},{"x":28.5,"y":19.5,"v":0.8},
{"x":1.5,"y":20.5,"v":0.8},{"x":12.5,"y":20.5,"v":0.8},{"x":14.5,"y":20.5,"v":1.9},{"x":18.5,"y":20.5,"v":0.8},{"x":22.5,"y":20.5,"v":0.8},{"x":25.5,"y":20.5,"v":0.8},
{"x":1.5,"y":21.5,"v":0.8},{"x":5.5,"y":21.5,"v":0.8},{"x":7.5,"y":21.5,"v":1.9},{"x":9.5,"y":21.5,"v":1.9},{"x":14.5,"y":21.5,"v":0.8},{"x":18.5,"y":21.5,"v":0.8},{"x":22.5,"y":21.5,"v":0.8},{"x":25.5,"y":21.5,"v":0.8},
{"x":1.5,"y":22.5,"v":0.8},{"x":4.5,"y":22.5,"v":1.9},{"x":5.5,"y":22.5,"v":1.9},{"x":10.5,"y":22.5,"v":0.8},{"x":20.5,"y":22.5,"v":0.8},{"x":25.5,"y":22.5,"v":0.8},
{"x":7.5,"y":23.5,"v":0.8},{"x":9.5,"y":23.5,"v":0.8},{"x":13.5,"y":23.5,"v":0.8},{"x":24.5,"y":23.5,"v":0.8},{"x":28.5,"y":23.5,"v":0.8},
{"x":8.5,"y":24.5,"v":0.8},{"x":9.5,"y":24.5,"v":0.8},{"x":10.5,"y":24.5,"v":0.8},{"x":11.5,"y":24.5,"v":0.8},{"x":16.5,"y":24.5,"v":0.8},{"x":20.5,"y":24.5,"v":0.8},{"x":21.5,"y":24.5,"v":0.8},
{"x":1.5,"y":25.5,"v":1.9},{"x":13.5,"y":25.5,"v":0.8},{"x":17.5,"y":25.5,"v":0.8},{"x":19.5,"y":25.5,"v":0.8},{"x":25.5,"y":25.5,"v":0.8},
{"x":1.5,"y":26.5,"v":0.8},{"x":3.5,"y":26.5,"v":1.9},{"x":5.5,"y":26.5,"v":0.8},{"x":8.5,"y":26.5,"v":0.8},{"x":9.5,"y":26.5,"v":0.8},{"x":11.5,"y":26.5,"v":1.9},{"x":17.5,"y":26.5,"v":0.8},{"x":23.5,"y":26.5,"v":0.8},{"x":27.5,"y":26.5,"v":1.9},
{"x":11.5,"y":27.5,"v":0.8},{"x":14.5,"y":27.5,"v":0.8},{"x":19.5,"y":27.5,"v":0.8},{"x":21.5,"y":27.5,"v":0.8},{"x":26.5,"y":27.5,"v":0.8},{"x":27.5,"y":27.5,"v":0.8},
{"x":13.5,"y":28.5,"v":1.9},{"x":16.5,"y":28.5,"v":0.8},{"x":20.5,"y":28.5,"v":0.8},
{"x":15.5,"y":29.5,"v":0.8},{"x":18.5,"y":29.5,"v":1.9},{"x":19.5,"y":29.5,"v":1.9},{"x":24.5,"y":29.5,"v":0.8},{"x":27.5,"y":29.5,"v":0.8},
{"x":18.7,"y":6.5,"v":8.3},{"x":20.7,"y":6.5,"v":8.3},{"x":14.7,"y":12.57,"v":9},{"x":15.7,"y":17.63,"v":8},{"x":16.7,"y":17.63,"v":9},{"x":17.7,"y":17.63,"v":9}],
"br_lines":[
{"g":1,"o":1,"x":12.73,"y":15.57},{"g":1,"o":2,"x":11.73,"y":14.57},{"g":1,"o":3,"x":12.73,"y":12.57},{"g":1,"o":4,"x":15.73,"y":9.57},{"g":1,"o":5,"x":13.73,"y":9.57},{"g":1,"o":6,"x":14.73,"y":7.73},{"g":1,"o":7,"x":15.73,"y":7.53},{"g":1,"o":8,"x":15.73,"y":6.07},{"g":1,"o":9,"x":16.73,"y":4.53},{"g":1,"o":10,"x":18.73,"y":4.4},{"g":1,"o":11,"x":20.73,"y":3.47},{"g":1,"o":12,"x":22.73,"y":3.47},{"g":1,"o":13,"x":20.73,"y":5.47},{"g":1,"o":14,"x":18.73,"y":6.53},{"g":1,"o":15,"x":18.73,"y":8.57},{"g":1,"o":16,"x":19.73,"y":9.57},{"g":1,"o":17,"x":19.73,"y":8.57},{"g":1,"o":18,"x":20.73,"y":7.57},
{"g":2,"o":1,"x":12.73,"y":15.57},{"g":2,"o":2,"x":15.73,"y":14.57},{"g":2,"o":3,"x":19.73,"y":12.57},{"g":2,"o":4,"x":21.73,"y":10.57},{"g":2,"o":5,"x":23.73,"y":9.57},{"g":2,"o":6,"x":23.73,"y":8.57},{"g":2,"o":7,"x":21.73,"y":5.57},{"g":2,"o":8,"x":20.73,"y":5.57},{"g":2,"o":9,"x":20.73,"y":6.53},{"g":2,"o":10,"x":20.73,"y":9.57},{"g":2,"o":11,"x":14.73,"y":12.57},{"g":2,"o":12,"x":13.73,"y":14.57},{"g":2,"o":13,"x":12.73,"y":15.57},
{"g":3,"o":1,"x":18.73,"y":6.53},{"g":3,"o":2,"x":20.73,"y":6.53},
{"g":4,"o":1,"x":21.73,"y":7.57},{"g":4,"o":2,"x":22.73,"y":8.57},
{"g":5,"o":1,"x":12.73,"y":18.57},{"g":5,"o":2,"x":14.73,"y":16.57},{"g":5,"o":3,"x":16.73,"y":15.57},{"g":5,"o":4,"x":19.73,"y":15.57},{"g":5,"o":5,"x":20.73,"y":17.57},{"g":5,"o":6,"x":18.73,"y":18.57},{"g":5,"o":7,"x":14.73,"y":22.73},{"g":5,"o":8,"x":13.73,"y":22.73},{"g":5,"o":9,"x":12.73,"y":21.57},{"g":5,"o":10,"x":12.73,"y":18.57},
{"g":6,"o":1,"x":18.73,"y":15.67},{"g":6,"o":2,"x":16.73,"y":16.73},{"g":6,"o":3,"x":14.73,"y":19.57},{"g":6,"o":4,"x":14.73,"y":21.57},{"g":6,"o":5,"x":13.73,"y":20.73},{"g":6,"o":6,"x":13.73,"y":19.73},{"g":6,"o":7,"x":16.6,"y":15.67},
{"g":7,"o":1,"x":16.73,"y":17.6},{"g":7,"o":2,"x":18.73,"y":17.6}]
},
"concat":[
{"width":302,"height":302,"layer":[
{"data":{"name":"tl_dots"},"mark":{"type":"circle","size":6,"opacity":1},"encoding":{"x":{"field":"x","type":"quantitative","scale":{"domain":[0,30.2],"nice":false,"zero":false},"axis":null},"y":{"field":"y","type":"quantitative","scale":{"domain":[0,30.2],"nice":false,"zero":false,"reverse":true},"axis":null},"color":{"field":"v","type":"quantitative","scale":{"domain":[0,10],"range":["#ffffff","#000000"],"interpolate":"rgb"},"legend":null}}},
{"data":{"name":"tl_circles"},"mark":{"type":"circle","size":255,"opacity":1},"encoding":{"x":{"field":"x","type":"quantitative"},"y":{"field":"y","type":"quantitative"},"color":{"field":"v","type":"quantitative","legend":null}}},
{"data":{"name":"tl_lines"},"mark":{"type":"line","color":"#1a1a1a","strokeWidth":1.1},"encoding":{"x":{"field":"x","type":"quantitative"},"y":{"field":"y","type":"quantitative"},"detail":{"field":"g"},"order":{"field":"o"}}},
{"data":{"name":"labels"},"transform":[{"filter":"datum.p=='TL'"}],"mark":{"type":"text","font":"DejaVu Sans","fontSize":18,"align":"left","baseline":"alphabetic","color":"#000000"},"encoding":{"x":{"field":"x","type":"quantitative"},"y":{"field":"y","type":"quantitative"},"text":{"field":"label"}}}
]},
{"width":302,"height":302,"layer":[
{"data":{"name":"tr_dots"},"mark":{"type":"circle","size":6,"opacity":1},"encoding":{"x":{"field":"x","type":"quantitative","scale":{"domain":[0,30.2],"nice":false,"zero":false},"axis":null},"y":{"field":"y","type":"quantitative","scale":{"domain":[0,30.2],"nice":false,"zero":false,"reverse":true},"axis":null},"color":{"field":"v","type":"quantitative","scale":{"domain":[0,10],"range":["#ffffff","#000000"],"interpolate":"rgb"},"legend":null}}},
{"data":{"name":"tr_circles"},"mark":{"type":"circle","size":255,"opacity":1},"encoding":{"x":{"field":"x","type":"quantitative"},"y":{"field":"y","type":"quantitative"},"color":{"field":"v","type":"quantitative","legend":null}}},
{"data":{"name":"tr_lines"},"mark":{"type":"line","color":"#1a1a1a","strokeWidth":1.1},"encoding":{"x":{"field":"x","type":"quantitative"},"y":{"field":"y","type":"quantitative"},"detail":{"field":"g"},"order":{"field":"o"}}},
{"data":{"name":"labels"},"transform":[{"filter":"datum.p=='TR'"}],"mark":{"type":"text","font":"DejaVu Sans","fontSize":18,"align":"left","baseline":"alphabetic","color":"#000000"},"encoding":{"x":{"field":"x","type":"quantitative"},"y":{"field":"y","type":"quantitative"},"text":{"field":"label"}}}
]},
{"width":302,"height":302,"layer":[
{"data":{"name":"bl_cells"},"mark":{"type":"square","size":100,"opacity":1},"encoding":{"x":{"field":"x","type":"quantitative","scale":{"domain":[0,30.2],"nice":false,"zero":false},"axis":null},"y":{"field":"y","type":"quantitative","scale":{"domain":[0,30.2],"nice":false,"zero":false,"reverse":true},"axis":null},"color":{"field":"v","type":"quantitative","scale":{"domain":[0,10],"range":["#ffffff","#000000"],"interpolate":"rgb"},"legend":null}}},
{"data":{"name":"bl_lines"},"mark":{"type":"line","color":"#333333","strokeWidth":1},"encoding":{"x":{"field":"x","type":"quantitative"},"y":{"field":"y","type":"quantitative"},"detail":{"field":"g"},"order":{"field":"o"}}},
{"data":{"name":"labels"},"transform":[{"filter":"datum.p=='BL'"}],"mark":{"type":"text","font":"DejaVu Sans","fontSize":18,"align":"left","baseline":"alphabetic","color":"#000000"},"encoding":{"x":{"field":"x","type":"quantitative"},"y":{"field":"y","type":"quantitative"},"text":{"field":"label"}}}
]},
{"width":302,"height":302,"layer":[
{"data":{"name":"br_cells"},"mark":{"type":"square","size":100,"opacity":1},"encoding":{"x":{"field":"x","type":"quantitative","scale":{"domain":[0,30.2],"nice":false,"zero":false},"axis":null},"y":{"field":"y","type":"quantitative","scale":{"domain":[0,30.2],"nice":false,"zero":false,"reverse":true},"axis":null},"color":{"field":"v","type":"quantitative","scale":{"domain":[0,10],"range":["#ffffff","#000000"],"interpolate":"rgb"},"legend":null}}},
{"data":{"name":"br_lines"},"mark":{"type":"line","color":"#333333","strokeWidth":1},"encoding":{"x":{"field":"x","type":"quantitative"},"y":{"field":"y","type":"quantitative"},"detail":{"field":"g"},"order":{"field":"o"}}},
{"data":{"name":"labels"},"transform":[{"filter":"datum.p=='BR'"}],"mark":{"type":"text","font":"DejaVu Sans","fontSize":18,"align":"left","baseline":"alphabetic","color":"#000000"},"encoding":{"x":{"field":"x","type":"quantitative"},"y":{"field":"y","type":"quantitative"},"text":{"field":"label"}}}
]}
]
}
